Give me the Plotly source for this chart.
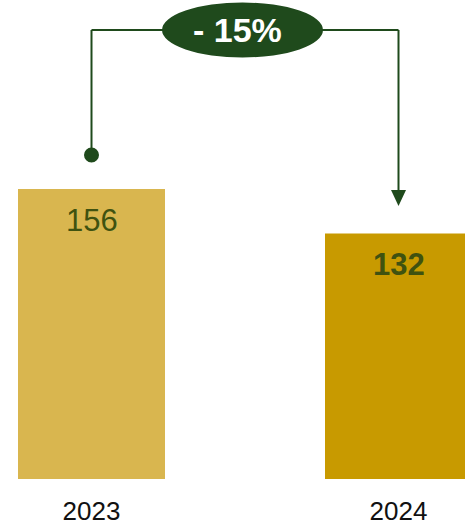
import plotly.graph_objects as go

categories = ["2023", "2024"]
values = [156, 132]
bar_colors = ["#D9B64F", "#C89A00"]

green = "#1F4A1C"
label_color = "#3F5210"

change = (values[1] - values[0]) / values[0] * 100
change_text = f"- {abs(round(change)):.0f}%"

# layout geometry (pixels); body margin removed via post_script
W, H = 465, 530
mt = 0
px_per_unit = 290 / 156.0
zero_page = 479
mb = H - zero_page
y_top = zero_page / px_per_unit

xs = 307.0
c0 = 91.5
c1 = 398.5
x_lo = -c0 / xs
x_hi = 1 + (W - c1) / xs

def py(pix):
    """page pixel row -> data y"""
    return (zero_page - pix) / px_per_unit

def pxv(pix):
    """page pixel column -> data x"""
    return (pix - c0) / xs

i0, i1 = 0, 1  # category indices

fig = go.Figure()
fig.add_trace(go.Bar(
    x=categories, y=values, marker=dict(color=bar_colors, line=dict(width=0)),
    width=147 / xs, hoverinfo="skip", showlegend=False,
))

# value labels
fig.add_annotation(x=i0, y=values[0], text=str(values[0]), showarrow=False,
                   yanchor="middle", yshift=-31,
                   font=dict(family="Liberation Sans, Arial", size=31, color=label_color))
fig.add_annotation(x=i1, y=values[1], text=f"<b>{values[1]}</b>", showarrow=False,
                   yanchor="middle", yshift=-31,
                   font=dict(family="Liberation Sans, Arial", size=31, color=label_color))

line_y = py(30)
dot_y = py(155)
head_y = py(190)
tip_y = py(206)

# connector lines
fig.add_shape(type="line", xref="x", yref="y", x0=i0, x1=i0, y0=dot_y, y1=line_y,
              line=dict(color=green, width=2))
fig.add_shape(type="line", xref="x", yref="y", x0=i0, x1=i1, y0=line_y, y1=line_y,
              line=dict(color=green, width=2))
fig.add_shape(type="line", xref="x", yref="y", x0=i1, x1=i1, y0=line_y, y1=head_y,
              line=dict(color=green, width=2))
# dot
fig.add_shape(type="circle", xref="x", yref="y", xsizemode="pixel", ysizemode="pixel",
              xanchor=i0, yanchor=dot_y, x0=-7.5, x1=7.5, y0=-7.5, y1=7.5,
              fillcolor=green, line=dict(width=0))
# arrow head
fig.add_shape(type="path", xref="x", yref="y", xsizemode="pixel", ysizemode="pixel",
              xanchor=i1, yanchor=tip_y,
              path="M -7.5 16 L 7.5 16 L 0 0 Z", fillcolor=green, line=dict(width=0))
# ellipse
ecx = pxv(242.5)
fig.add_shape(type="circle", xref="x", yref="y", xsizemode="pixel", ysizemode="pixel",
              xanchor=ecx, yanchor=py(30), x0=-80.5, x1=80.5, y0=-27.5, y1=27.5,
              fillcolor=green, line=dict(width=0))
fig.add_annotation(x=pxv(237), y=py(30), xref="x", yref="y", text=f"<b>{change_text}</b>",
                   showarrow=False, yanchor="middle", xanchor="center",
                   font=dict(family="Liberation Sans, Arial", size=34, color="white"))

fig.update_layout(
    width=W, height=H,
    margin=dict(l=0, r=0, t=mt, b=mb, pad=0),
    paper_bgcolor="white", plot_bgcolor="white",
    hovermode=False,
    xaxis=dict(type="category", range=[x_lo, x_hi], showgrid=False, zeroline=False,
               showline=False, ticks="", ticklabelstandoff=14, fixedrange=True,
               tickfont=dict(family="Liberation Sans, Arial", size=26, color="#111111")),
    yaxis=dict(range=[0, y_top], visible=False, fixedrange=True),
)

fig.write_html("out.html", config={"displayModeBar": False},
               post_script="document.body.style.margin='0';document.body.style.overflow='hidden';")
